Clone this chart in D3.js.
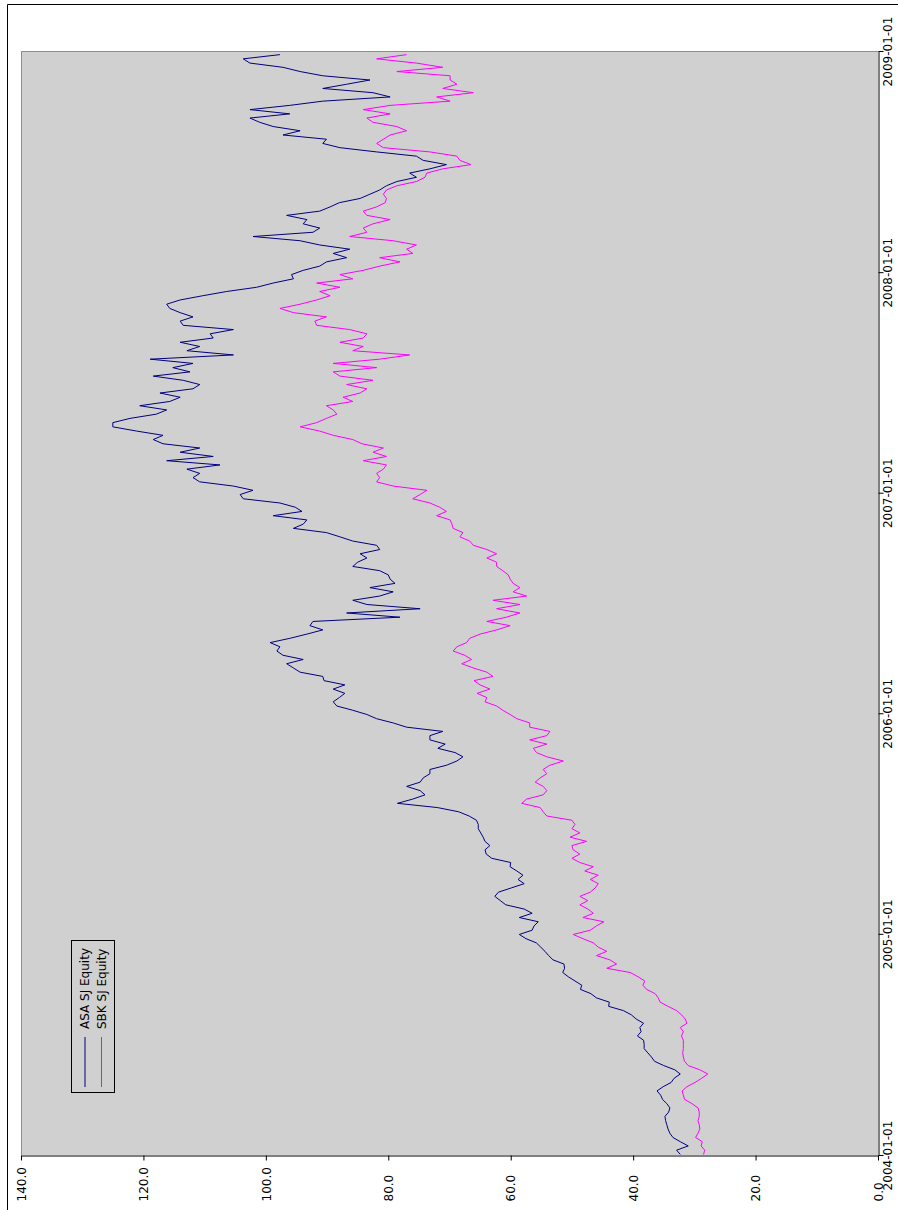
<!DOCTYPE html>
<html>
<head>
<meta charset="utf-8">
<script src="https://cdn.jsdelivr.net/npm/d3@7"></script>
<style>
  body { margin: 0; background: #fff; }
  svg { display: block; }
  text { font-family: "DejaVu Sans", sans-serif; font-size: 12px; fill: #000; }
</style>
</head>
<body>
<svg id="chart" width="898" height="1210"></svg>
<script>
// Weekly closing prices (Fridays), first week ending 2004-01-02
const firstWeek = "2004-01-02";
const seriesNames = ["ASA SJ Equity", "SBK SJ Equity"];
const seriesColors = ["#000080", "#ff00ff"];

const asa = [
  32.3, 32.9, 31.0, 32.3, 33.5, 34.0, 34.3, 34.5, 34.7, 34.8,
  34.2, 34.0, 34.5, 35.2, 35.5, 36.1, 35.1, 33.8, 33.3, 32.3,
  33.2, 35.0, 36.5, 37.0, 37.6, 38.2, 38.2, 38.3, 39.3, 38.7,
  38.9, 38.3, 39.5, 40.3, 41.6, 44.0, 43.9, 46.0, 46.9, 48.6,
  48.4, 49.5, 50.6, 51.5, 51.2, 51.3, 53.1, 53.8, 54.4, 55.1,
  55.8, 57.5, 58.6, 56.5, 56.2, 55.5, 58.6, 56.5, 57.8, 60.8,
  61.7, 62.6, 62.0, 59.9, 57.8, 58.8, 58.0, 59.0, 60.1, 60.0,
  63.1, 64.0, 64.2, 63.4, 64.2, 64.5, 64.9, 65.3, 65.3, 65.6,
  66.8, 68.5, 72.0, 78.5, 76.0, 74.0, 74.8, 77.0, 74.8, 74.3,
  73.2, 73.2, 70.5, 68.8, 67.8, 69.1, 71.9, 70.7, 73.2, 73.2,
  71.1, 77.0, 79.2, 81.9, 83.5, 85.8, 88.4, 89.0, 88.0, 87.1,
  89.0, 87.1, 90.5, 90.7, 94.4, 95.5, 96.6, 93.9, 97.2, 98.2,
  97.7, 99.3, 96.1, 93.3, 90.7, 92.8, 92.3, 78.1, 86.8, 74.8,
  83.5, 85.8, 81.4, 79.2, 83.0, 78.9, 79.7, 80.0, 81.4, 85.8,
  85.0, 83.5, 84.6, 81.4, 81.9, 85.8, 87.9, 90.1, 95.5, 93.9,
  93.3, 98.8, 94.1, 95.2, 97.7, 103.7, 104.2, 102.1, 105.3, 110.8,
  111.9, 110.8, 112.9, 107.5, 116.2, 108.6, 114.0, 110.8, 116.8, 118.4,
  116.8, 121.1, 125.0, 125.0, 122.2, 117.9, 116.2, 120.6, 115.7, 114.0,
  117.3, 111.9, 110.8, 113.5, 118.4, 112.4, 115.2, 111.9, 118.9, 105.3,
  112.9, 110.8, 114.0, 108.6, 109.1, 105.3, 113.5, 114.0, 111.9, 114.0,
  115.7, 116.2, 114.0, 110.3, 106.4, 101.5, 98.8, 95.5, 95.8, 93.9,
  91.2, 90.1, 86.8, 89.0, 86.3, 91.2, 94.4, 102.1, 92.3, 91.2,
  93.9, 93.3, 96.6, 91.2, 89.5, 88.0, 84.6, 83.0, 81.4, 80.3,
  78.6, 75.4, 76.5, 73.2, 70.5, 74.3, 75.4, 81.9, 87.9, 90.7,
  90.1, 97.2, 94.4, 98.8, 101.0, 102.6, 96.1, 102.6, 96.1, 90.7,
  79.7, 82.5, 90.7, 86.8, 83.0, 90.7, 94.4, 97.2, 102.6, 103.7,
  97.7
];

const sbk = [
  28.5, 28.3, 28.9, 28.7, 29.8, 29.4, 29.1, 29.2, 29.4, 29.2,
  29.2, 29.4, 30.4, 31.6, 31.8, 32.0, 31.2, 29.9, 28.8, 27.8,
  29.1, 31.0, 31.6, 31.8, 31.9, 31.8, 31.8, 31.8, 32.1, 31.8,
  32.3, 31.2, 31.5, 32.1, 32.9, 34.3, 35.6, 35.9, 36.4, 37.8,
  38.4, 38.1, 39.2, 40.5, 44.3, 42.7, 43.8, 46.0, 44.3, 45.7,
  46.5, 48.2, 49.8, 47.0, 46.0, 44.8, 48.2, 46.5, 47.4, 48.7,
  47.4, 48.7, 47.0, 46.2, 45.7, 47.0, 45.7, 47.9, 46.5, 48.7,
  50.0, 48.7, 49.8, 50.0, 47.6, 50.3, 48.7, 50.0, 49.5, 50.0,
  54.1, 54.7, 55.2, 58.2, 57.4, 54.7, 54.1, 54.7, 56.0, 55.2,
  54.1, 54.7, 53.6, 51.4, 54.1, 55.8, 56.3, 54.1, 56.9, 54.1,
  53.6, 56.9, 56.9, 59.0, 60.1, 61.3, 62.3, 64.2, 63.9, 65.5,
  63.4, 65.0, 66.0, 62.9, 63.9, 66.1, 68.0, 66.4, 67.5, 69.4,
  68.8, 67.2, 66.7, 65.0, 62.3, 60.1, 63.9, 60.7, 58.5, 62.3,
  58.5, 62.9, 57.4, 59.6, 58.5, 59.6, 60.1, 60.4, 61.3, 62.3,
  62.3, 63.9, 62.3, 63.9, 66.1, 66.7, 68.3, 67.8, 69.4, 69.6,
  69.9, 72.1, 70.5, 71.6, 73.2, 76.0, 74.8, 73.7, 79.2, 81.9,
  81.4, 81.9, 80.8, 80.3, 84.1, 80.3, 82.5, 80.8, 84.3, 85.8,
  89.0, 91.2, 94.4, 91.7, 90.1, 88.4, 89.0, 90.1, 85.8, 87.4,
  84.6, 83.5, 86.8, 82.5, 87.9, 89.0, 81.9, 89.0, 81.4, 76.5,
  85.8, 84.1, 87.9, 84.1, 83.5, 86.3, 91.7, 92.0, 90.1, 95.5,
  97.7, 94.4, 91.7, 89.5, 91.2, 87.9, 91.7, 85.8, 87.9, 84.1,
  81.4, 78.1, 81.4, 76.0, 77.0, 75.4, 79.2, 86.3, 83.5, 84.1,
  82.5, 79.7, 83.5, 84.1, 81.9, 80.5, 80.3, 80.8, 80.3, 78.6,
  75.4, 74.0, 73.7, 71.1, 66.5, 68.3, 68.8, 73.2, 80.8, 81.9,
  80.8, 79.7, 77.0, 78.6, 82.5, 83.5, 79.7, 84.1, 79.7, 69.9,
  72.1, 66.1, 71.1, 68.8, 69.9, 69.9, 78.6, 71.1, 75.4, 81.9,
  77.0
];

const valueTicks = [0, 20, 40, 60, 80, 100, 120, 140];
const dateTicks = ["2004-01-01", "2005-01-01", "2006-01-01", "2007-01-01", "2008-01-01", "2009-01-01"];

// The chart is laid out sideways: time runs bottom-to-top, price right-to-left.
const svg = d3.select("#chart");
const plot = { left: 21, right: 878, top: 51, bottom: 1155 };
const parse = d3.utcParse("%Y-%m-%d");
const t0 = parse(firstWeek);
const weekDates = asa.map((_, i) => d3.utcDay.offset(t0, 7 * i));

const y = d3.scaleUtc()
  .domain([parse(dateTicks[0]), parse(dateTicks[dateTicks.length - 1])])
  .range([plot.bottom, plot.top]);
const x = d3.scaleLinear()
  .domain([0, 140])
  .range([plot.right, plot.left]);

// figure frame
svg.append("path")
  .attr("d", "M7.5,1210V4.5H898")
  .attr("fill", "none").attr("stroke", "#000").attr("stroke-width", 1);

// plot area
svg.append("rect")
  .attr("x", plot.left).attr("y", plot.top)
  .attr("width", plot.right - plot.left).attr("height", plot.bottom - plot.top)
  .attr("fill", "#d0d0d0");
svg.append("path")
  .attr("d", `M${plot.left + 0.5},${plot.bottom}V${plot.top + 0.5}H${plot.right}`)
  .attr("fill", "none").attr("stroke", "#8c8c8c").attr("stroke-width", 1);

// series
const line = d3.line()
  .x(d => x(d[1]))
  .y(d => y(d[0]));
[asa, sbk].forEach((vals, k) => {
  svg.append("path")
    .datum(vals.map((v, i) => [weekDates[i], v]))
    .attr("d", line)
    .attr("fill", "none")
    .attr("stroke", seriesColors[k])
    .attr("stroke-width", 1)
    .attr("stroke-linejoin", "miter");
});

// price axis (bottom): labels read upward and share a common baseline start
const xAxis = svg.append("g")
  .attr("transform", `translate(0,${plot.bottom + 0.5})`)
  .call(d3.axisBottom(x).tickValues(valueTicks).tickSize(5).tickSizeOuter(0)
    .tickFormat(d3.format(".1f")));
xAxis.selectAll("text")
  .attr("transform", "rotate(-90)")
  .attr("x", -46).attr("y", 0).attr("dy", "0.35em")
  .attr("text-anchor", "start");

// date axis (right)
const yAxis = svg.append("g")
  .attr("transform", `translate(${plot.right + 0.5},0)`)
  .call(d3.axisRight(y).tickValues(dateTicks.map(parse)).tickSize(5).tickSizeOuter(0)
    .tickFormat(d3.utcFormat("%Y-%m-%d")));
yAxis.selectAll("text")
  .attr("transform", "rotate(-90)")
  .attr("x", 0).attr("y", 13).attr("dy", 0)
  .attr("text-anchor", "middle");

[xAxis, yAxis].forEach(g => {
  g.attr("font-family", null).attr("font-size", null);
  g.select(".domain").attr("stroke", "#000");
  g.selectAll(".tick line").attr("stroke", "#000");
});

// legend
const legend = svg.append("g");
legend.append("rect")
  .attr("x", 71.5).attr("y", 940.5).attr("width", 43).attr("height", 152)
  .attr("fill", "none").attr("stroke", "#000");
seriesNames.forEach((name, k) => {
  const cx = 85 + 16.5 * k;
  legend.append("line")
    .attr("x1", cx).attr("x2", cx).attr("y1", 1087).attr("y2", 1037)
    .attr("stroke", seriesColors[k]).attr("stroke-width", 1);
  legend.append("text")
    .attr("transform", `translate(${cx + 4},1029) rotate(-90)`)
    .text(name);
});
</script>
</body>
</html>
